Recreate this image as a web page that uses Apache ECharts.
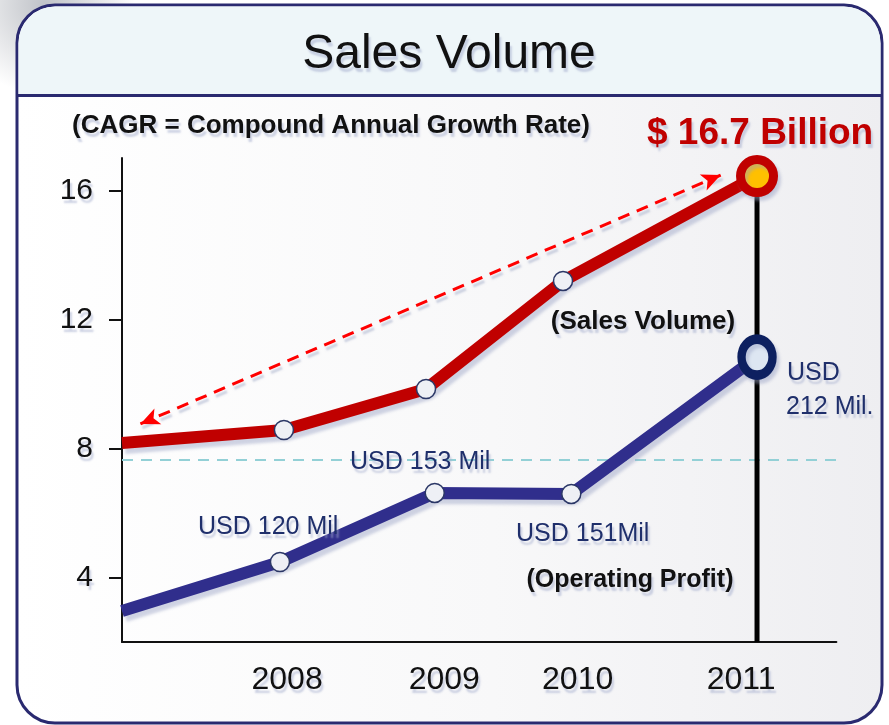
<!DOCTYPE html>
<html><head><meta charset="utf-8">
<script src="https://cdn.jsdelivr.net/npm/echarts@6/dist/echarts.min.js"></script>
<style>html,body{margin:0;padding:0;background:#fff}#c{width:889px;height:725px}</style>
</head><body><div id="c"></div>
<script>
// ---- data ----
const titleText = 'Sales Volume';
const xLabels = ['2008', '2009', '2010', '2011'];
const xLabelPos = [2008.04, 2009.03, 2009.87, 2010.90];
const yTicks = [4, 8, 12, 16];
const salesX = [2007.0, 2008.02, 2008.915, 2009.778, 2011.0];
const salesY = [8.17, 8.57, 9.84, 13.19, 16.44];
const profitX = [2007.0, 2007.995, 2008.97, 2009.83, 2011.0];
const profitY = [2.96, 4.48, 6.62, 6.59, 10.83];
const refLineY = 7.64;
const cagrFrom = [2007.116, 8.76];
const cagrTo = [2010.771, 16.47];
const profitNotes = ['USD 120 Mil', 'USD 153 Mil', 'USD 151Mil', 'USD', '212 Mil.'];

const FONT = '"Liberation Sans", Arial, sans-serif';
const shadowText = { textShadowColor: 'rgba(165,175,205,0.55)', textShadowBlur: 2, textShadowOffsetX: 2, textShadowOffsetY: 4 };

function pts(xs, ys, lastStyle) {
  return xs.map((x, i) => {
    const d = { value: [x, ys[i]] };
    if (i === 0) d.symbol = 'none';
    if (i === xs.length - 1) Object.assign(d, lastStyle);
    return d;
  });
}

const chart = echarts.init(document.getElementById('c'), null, { renderer: 'canvas' });

function txt(text, x, y, size, color, weight, align) {
  return { type: 'text', z: 100, x: x, y: y,
    style: Object.assign({ text: text, fill: color, font: (weight || 'normal') + ' ' + size + 'px ' + FONT,
      textAlign: align || 'left', textVerticalAlign: 'middle' }, shadowText) };
}

const option = {
  animation: false,
  backgroundColor: '#ffffff',
  grid: { left: 122, right: 52.6, top: 158, bottom: 83 },
  xAxis: {
    type: 'value', min: 2007, max: 2011.5,
    axisLine: { show: true, lineStyle: { color: '#111', width: 2 } },
    axisTick: { show: false },
    splitLine: { show: false },
    axisLabel: {
      customValues: xLabelPos, margin: 22,
      fontSize: 32, fontFamily: FONT, color: '#111',
      textShadowColor: 'rgba(165,175,205,0.55)', textShadowBlur: 2, textShadowOffsetX: 2, textShadowOffsetY: 4,
      formatter: function (v) {
        let best = 0;
        xLabelPos.forEach((p, i) => { if (Math.abs(p - v) < Math.abs(xLabelPos[best] - v)) best = i; });
        return xLabels[best];
      }
    }
  },
  yAxis: {
    type: 'value', min: 2, max: 17,
    axisLine: { show: true, lineStyle: { color: '#111', width: 2 } },
    axisTick: { show: true, customValues: yTicks, length: 13, lineStyle: { color: '#111', width: 2 } },
    splitLine: { show: false },
    axisLabel: {
      customValues: yTicks, margin: 29,
      fontSize: 30, fontFamily: FONT, color: '#111',
      textShadowColor: 'rgba(165,175,205,0.55)', textShadowBlur: 2, textShadowOffsetX: 2, textShadowOffsetY: 4
    }
  },
  graphic: [
    { type: 'circle', z: -20, shape: { cx: 45, cy: 5, r: 90 },
      style: { fill: new echarts.graphic.RadialGradient(0.5, 0.5, 0.5, [
        { offset: 0, color: 'rgba(140,145,155,0.55)' }, { offset: 1, color: 'rgba(140,145,155,0)' }]) } },
    { type: 'rect', z: -10, shape: { x: 17, y: 5, width: 865, height: 718, r: 38 },
      style: { fill: new echarts.graphic.LinearGradient(0, 0, 1, 0, [
        { offset: 0, color: '#ffffff' }, { offset: 0.55, color: '#f8f8f9' }, { offset: 1, color: '#eeeef1' }]),
        stroke: '#2a2a70', lineWidth: 3 } },
    { type: 'rect', z: -9, shape: { x: 18.5, y: 6.5, width: 862, height: 88.5, r: [37, 37, 0, 0] },
      style: { fill: '#eef6f9' } },
    { type: 'line', z: -8, shape: { x1: 17, y1: 95.5, x2: 882, y2: 95.5 },
      style: { stroke: '#2a2a70', lineWidth: 3 } },
    txt(titleText, 449, 55, 48, '#111111', 'normal', 'center'),
    txt('(CAGR = Compound Annual Growth Rate)', 331, 126, 26, '#111111', 'bold', 'center'),
    txt('$ 16.7 Billion', 647, 134, 37, '#c00000', 'bold', 'left'),
    txt('(Sales Volume)', 643, 322, 26, '#111111', 'bold', 'center'),
    txt('(Operating Profit)', 630, 580, 25, '#111111', 'bold', 'center'),
    txt(profitNotes[0], 198, 527, 25, '#1f2f6b'),
    txt(profitNotes[1], 350, 462, 25, '#1f2f6b'),
    txt(profitNotes[2], 516, 534, 25, '#1f2f6b'),
    txt(profitNotes[3], 787, 373, 25, '#1f2f6b'),
    txt(profitNotes[4], 786, 407, 25, '#1f2f6b')
  ],
  series: [
    { // reference dashed line
      type: 'line', z: 1, silent: true, symbol: 'none',
      data: [[2007, refLineY], [2011.5, refLineY]],
      lineStyle: { color: '#93d0d6', width: 2, type: [11, 8] }
    },
    { // 2011 vertical marker line
      type: 'line', z: 1, silent: true, symbol: 'none',
      data: [[salesX[salesX.length - 1], salesY[salesY.length - 1]], [salesX[salesX.length - 1], 2]],
      lineStyle: { color: '#000', width: 5 }
    },
    { // CAGR arrow
      type: 'line', z: 2, silent: true, symbol: 'none', data: [],
      markLine: {
        silent: true, symbol: ['arrow', 'arrow'], symbolSize: [13, 19],
        label: { show: false },
        lineStyle: { color: '#ff0000', width: 3, type: [12, 8],
          shadowColor: 'rgba(160,170,200,0.5)', shadowBlur: 2, shadowOffsetX: 2, shadowOffsetY: 4 },
        data: [[{ coord: cagrFrom }, { coord: cagrTo }]]
      }
    },
    { // sales volume
      name: 'Sales Volume', type: 'line', z: 3,
      symbol: 'circle', symbolSize: 19, showAllSymbol: true,
      lineStyle: { color: '#c00000', width: 12,
        shadowColor: 'rgba(150,160,195,0.45)', shadowBlur: 3, shadowOffsetX: 3, shadowOffsetY: 5 },
      itemStyle: { color: '#eef0f5', borderColor: '#2b3766', borderWidth: 1.5 },
      data: pts(salesX, salesY, { symbolSize: 33, itemStyle: { color: '#ffc000', borderColor: '#c00000', borderWidth: 9,
        shadowColor: 'rgba(150,160,195,0.45)', shadowBlur: 3, shadowOffsetX: 3, shadowOffsetY: 4 } })
    },
    { // operating profit
      name: 'Operating Profit', type: 'line', z: 3,
      symbol: 'circle', symbolSize: 19, showAllSymbol: true,
      lineStyle: { color: '#302e8c', width: 12,
        shadowColor: 'rgba(150,160,195,0.45)', shadowBlur: 3, shadowOffsetX: 3, shadowOffsetY: 5 },
      itemStyle: { color: '#eef0f5', borderColor: '#2b3766', borderWidth: 1.5 },
      data: pts(profitX, profitY, { symbolSize: [31, 36], itemStyle: { color: '#dde6f2', borderColor: '#0d2060', borderWidth: 9,
        shadowColor: 'rgba(150,160,195,0.45)', shadowBlur: 3, shadowOffsetX: 3, shadowOffsetY: 4 } })
    }
  ]
};
chart.setOption(option);
</script>
</body></html>
